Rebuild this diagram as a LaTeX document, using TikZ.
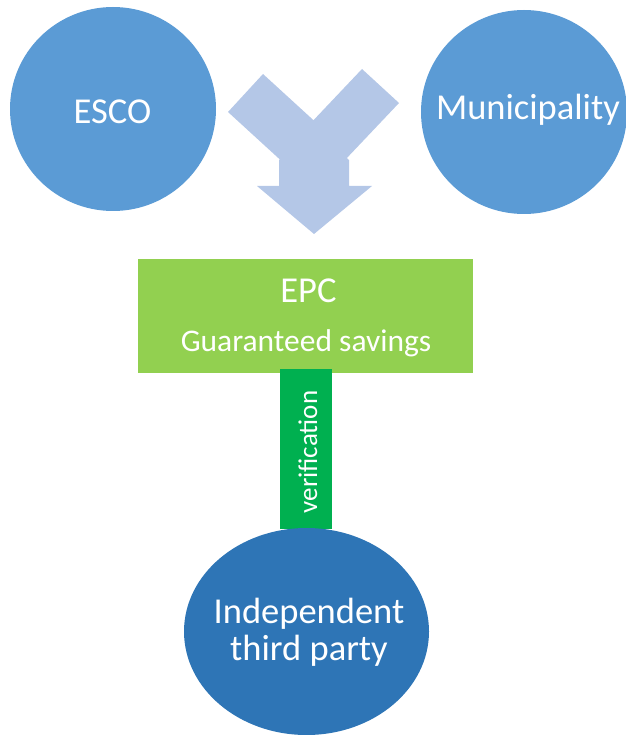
\documentclass[tikz,border=0pt]{standalone}
\usepackage{fontspec}
\setmainfont{Carlito}
\usetikzlibrary{shapes.geometric}
\definecolor{circblue}{HTML}{5B9BD5}
\definecolor{arrowblue}{HTML}{B4C7E7}
\definecolor{epcgreen}{HTML}{92D050}
\definecolor{bargreen}{HTML}{00B050}
\definecolor{darkblue}{HTML}{2E75B6}
\tikzset{
  party/.style={ellipse, fill=circblue, draw=none, inner sep=0pt},
  lbl/.style={text=white, font=\fontsize{36.5}{40}\selectfont, anchor=base, inner sep=0pt},
  mergeshape/.style={fill=arrowblue, draw=none}
}
\begin{document}
\begin{tikzpicture}[x=1pt, y=-1pt]
\useasboundingbox (0,0) rectangle (625,735);
% parties
\node[party, minimum width=206pt, minimum height=204pt] (esco) at (113,109) {};
\node[lbl] (escot) at (112.5,124) {ESCO};
\node[party, minimum width=206pt, minimum height=204pt] (muni) at (524,112) {};
\node[lbl] (munit) at (528,120) {Municipality};
% merge arrow
\fill[mergeshape] (228,112) -- (263,74) -- (322,128) -- (287,166) -- cycle;
\fill[mergeshape] (362,69) -- (399,103) -- (345,160) -- (308,126) -- cycle;
\fill[mergeshape] (279,160) -- (314,128) -- (349,160) -- (349,186) -- (372,186)
   -- (314,234) -- (257,186) -- (279,186) -- cycle;
% EPC box
\node[fill=epcgreen, minimum width=335pt, minimum height=114pt, inner sep=0pt] (epc) at (305,316) {};
\node[lbl] (epct) at (308.5,302) {EPC};
\node[lbl, font=\fontsize{31.5}{34}\selectfont] (gst) at (306,351.5) {Guaranteed savings};
% verification bar
\node[fill=bargreen, minimum width=52pt, minimum height=160pt, inner sep=0pt] (bar) at (306,448.5) {};
\node[lbl, font=\fontsize{27}{30}\selectfont, rotate=90] (vert) at (317,452) {verification};
% independent third party
\node[ellipse, fill=darkblue, minimum width=245pt, minimum height=207pt, inner sep=0pt] (itp) at (306.5,631.5) {};
\node[lbl] (itp1) at (309,623) {Independent};
\node[lbl] (itp2) at (309,660) {third party};
\end{tikzpicture}
\end{document}
